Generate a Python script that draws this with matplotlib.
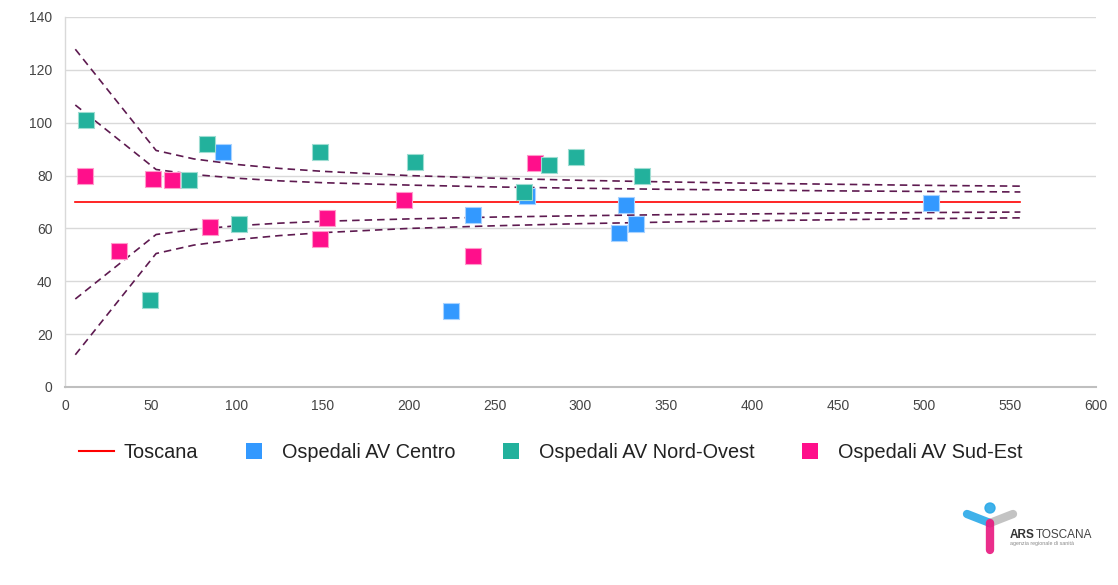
import matplotlib
matplotlib.use("Agg")
import matplotlib.pyplot as plt
from matplotlib.lines import Line2D
from matplotlib.patches import Circle

plt.rcParams['font.family'] = ['Liberation Sans', 'DejaVu Sans']

# ---- data ----
toscana_x = [6, 556]
toscana_y = [70, 70]

funnel_x = [6, 53, 75, 100, 125, 150, 200, 250, 300, 350, 400, 450, 500, 556]
upper_outer = [127.8, 89.5, 86.3, 84.2, 82.7, 81.6, 80.0, 79.0, 78.2, 77.6, 77.1, 76.7, 76.3, 76.0]
upper_inner = [106.7, 82.3, 80.4, 79.0, 78.0, 77.3, 76.4, 75.7, 75.2, 74.8, 74.5, 74.2, 74.0, 73.8]
lower_inner = [33.3, 57.7, 59.6, 61.0, 62.0, 62.7, 63.6, 64.3, 64.8, 65.2, 65.5, 65.8, 66.0, 66.2]
lower_outer = [12.2, 50.5, 53.7, 55.8, 57.3, 58.4, 60.0, 61.0, 61.8, 62.4, 62.9, 63.3, 63.7, 64.0]

centro_x = [92, 224.5, 237.5, 269, 322.5, 326.3, 332.4, 504]
centro_y = [88.9, 28.6, 65.2, 72.3, 58.2, 68.9, 61.6, 69.6]

nordovest_x = [12.2, 49.5, 72.4, 82.5, 101.5, 148.4, 203.5, 267.4, 281.5, 297.4, 335.5]
nordovest_y = [101.0, 32.9, 78.3, 91.9, 61.7, 89.0, 85.0, 73.8, 84.1, 87.1, 79.8]

sudest_x = [11.4, 31.4, 51.4, 62.5, 84.4, 148.4, 152.3, 197.3, 237.5, 273.4]
sudest_y = [79.8, 51.6, 78.6, 78.3, 60.4, 55.9, 63.9, 70.8, 49.6, 84.9]

xticks = list(range(0, 601, 50))
yticks = list(range(0, 141, 20))

c_red = '#FF0000'
c_blue = '#3399FF'
c_teal = '#22B19C'
c_pink = '#FF0F8B'
c_funnel = '#5E1A50'

W, H = 1118, 585
fig = plt.figure(figsize=(W / 100, H / 100), dpi=100)
ax = fig.add_axes([65 / W, 1 - 387 / H, (1096 - 65) / W, (387 - 17) / H])

ax.set_xlim(0, 600)
ax.set_ylim(0, 140)
ax.set_xticks(xticks)
ax.set_yticks(yticks)
ax.tick_params(length=0, labelsize=10, colors='#444444', pad=9)
ax.grid(axis='y', color='#D9D9D9', lw=1)
ax.set_axisbelow(True)
for s in ['top', 'right']:
    ax.spines[s].set_visible(False)
ax.spines['left'].set_color('#D9D9D9')
ax.spines['left'].set_linewidth(1)
ax.spines['bottom'].set_color('#BFBFBF')
ax.spines['bottom'].set_linewidth(1.5)

for yy in [upper_outer, upper_inner, lower_inner, lower_outer]:
    ax.plot(funnel_x, yy, color=c_funnel, lw=1.2, dashes=(4.5, 3), zorder=2)

ax.plot(toscana_x, toscana_y, color=c_red, lw=1.2, zorder=3)

ms = 135
ax.scatter(centro_x, centro_y, s=ms, marker='s', color=c_blue,
           edgecolors='#A9D3FF', linewidths=0.8, zorder=4)
ax.scatter(sudest_x, sudest_y, s=ms, marker='s', color=c_pink,
           edgecolors='#FF9BCB', linewidths=0.8, zorder=5)
ax.scatter(nordovest_x, nordovest_y, s=ms, marker='s', color=c_teal,
           edgecolors='#9EDDD2', linewidths=0.8, zorder=6)

handles = [
    Line2D([], [], color=c_red, lw=1.5),
    Line2D([], [], ls='none', marker='s', markersize=11.5, color=c_blue, markeredgewidth=0),
    Line2D([], [], ls='none', marker='s', markersize=11.5, color=c_teal, markeredgewidth=0),
    Line2D([], [], ls='none', marker='s', markersize=11.5, color=c_pink, markeredgewidth=0),
]
labels = ['Toscana', 'Ospedali AV Centro', 'Ospedali AV Nord-Ovest', 'Ospedali AV Sud-Est']
fig.legend(handles, labels, loc='center left', bbox_to_anchor=(79 / W, 1 - 452 / H),
           ncol=4, frameon=False, fontsize=14.3, handlelength=1.75, handletextpad=0.5,
           columnspacing=1.95, borderpad=0, borderaxespad=0, labelcolor='#222222')

# ---- logo (pixel coordinates overlay) ----
lax = fig.add_axes([0, 0, 1, 1], zorder=-1)
lax.set_xlim(0, W)
lax.set_ylim(H, 0)
lax.axis('off')
lax.plot([967, 990], [514, 523], color='#2AA9E8', lw=6, solid_capstyle='round', alpha=0.9)
lax.plot([990, 1013], [523, 514], color='#BDBDBD', lw=6, solid_capstyle='round', alpha=0.9)
lax.plot([990, 990], [523, 550], color='#E8177E', lw=6, solid_capstyle='round', alpha=0.9)
lax.add_patch(Circle((990, 508), 5, color='#2AA9E8', alpha=0.9))
lax.add_patch(Circle((990, 523), 3.5, color='#1B1B4A'))
lax.text(1010, 534.5, 'ARS', fontsize=8.5, fontweight='bold', color='#333333', va='center', ha='left')
lax.text(1036, 534.5, 'TOSCANA', fontsize=8.5, color='#444444', va='center', ha='left')
lax.text(1010, 544, 'agenzia regionale di sanità', fontsize=3.8, color='#888888', va='center', ha='left')

fig.savefig('out.png', dpi=100)
